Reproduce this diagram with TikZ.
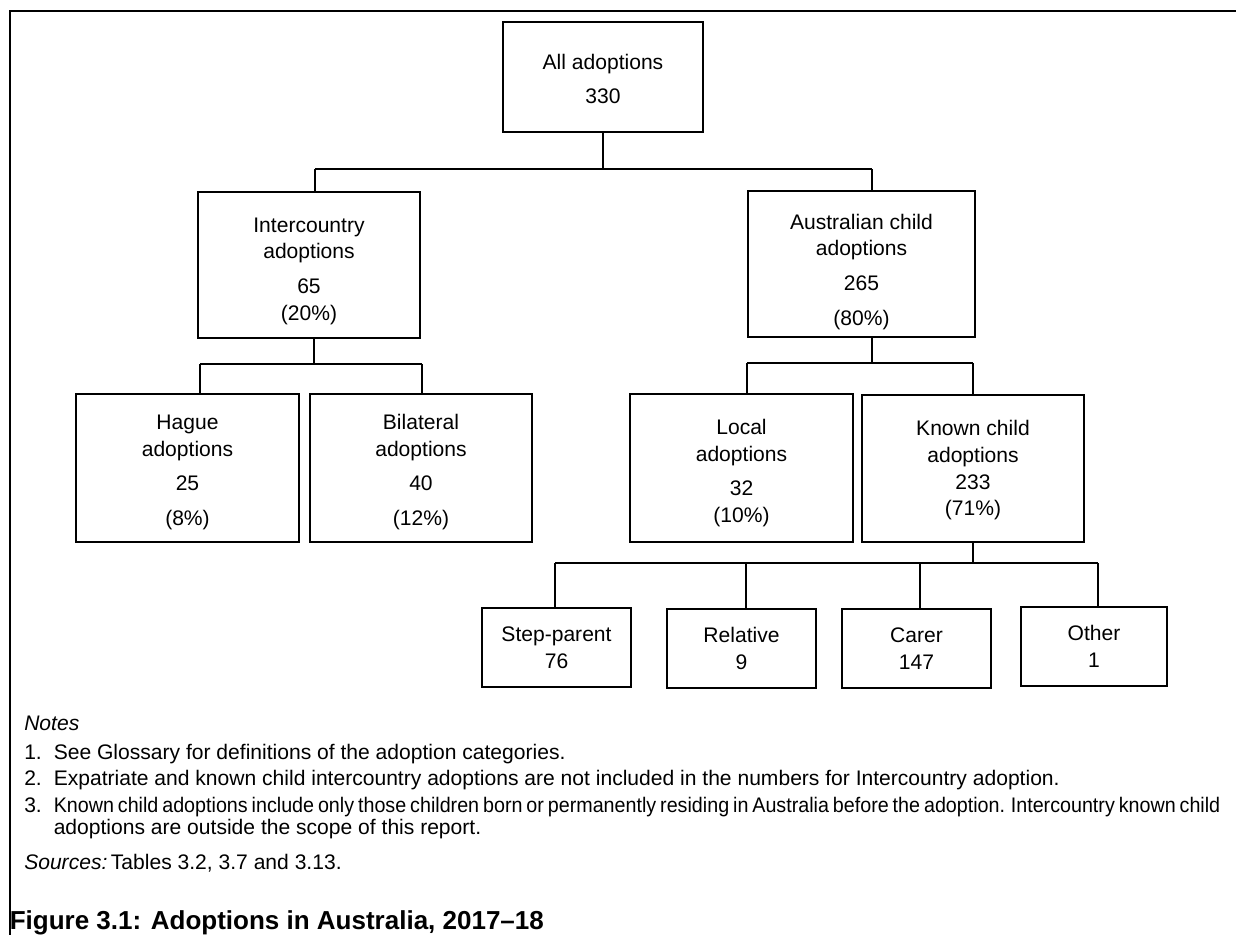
\documentclass[tikz,border=0pt]{standalone}
\usepackage{fontspec}
\setmainfont{Liberation Sans}
\newcommand{\topstrut}[1]{\rule{0pt}{#1}}
\begin{document}
\begin{tikzpicture}[x=0.75pt,y=-0.75pt,
  frameline/.style={line width=1.6pt},
  box/.style={draw, line width=1.1pt, inner sep=0pt, align=center, font=\fontsize{15.8}{20}\selectfont},
  conn/.style={line width=0.85pt},
  note/.style={anchor=base west, inner sep=0pt, font=\fontsize{15.8}{18}\selectfont},
  titletext/.style={anchor=base west, inner sep=0pt, font=\fontsize{19.5}{22}\selectfont\bfseries}]
\useasboundingbox (0,0) rectangle (1236,935);
\clip (0,0) rectangle (1236,935);
% frame
\draw[frameline] (10,945) -- (10,11) -- (1250,11);
% level 0
\node[box, minimum width=200*0.75pt, minimum height=110*0.75pt] (all) at (603,77) {\topstrut{14.5pt}All adoptions\\[6pt]330};
% level 1
\node[box, minimum width=222*0.75pt, minimum height=146*0.75pt] (inter) at (309,265) {\topstrut{20pt}Intercountry\\adoptions\\[6pt]65\\(20\%)};
\node[box, minimum width=227*0.75pt, minimum height=146*0.75pt] (aus) at (861.5,264) {\topstrut{23pt}Australian child\\adoptions\\[6pt]265\\[6pt](80\%)};
% level 2
\node[box, minimum width=223*0.75pt, minimum height=148*0.75pt] (hague) at (187.5,468) {\topstrut{17.5pt}Hague\\adoptions\\[6pt]25\\[6pt](8\%)};
\node[box, minimum width=222*0.75pt, minimum height=148*0.75pt] (bilat) at (421,468) {\topstrut{17.5pt}Bilateral\\adoptions\\[6pt]40\\[6pt](12\%)};
\node[box, minimum width=223*0.75pt, minimum height=148*0.75pt] (local) at (741.5,468) {\topstrut{19pt}Local\\adoptions\\[6pt]32\\(10\%)};
\node[box, minimum width=222*0.75pt, minimum height=147*0.75pt] (known) at (973,468.5) {\topstrut{14.5pt}Known child\\adoptions\\233\\(71\%)};
% level 3
\node[box, minimum width=149*0.75pt, minimum height=79*0.75pt] (step) at (556.5,647.5) {Step-parent\\76};
\node[box, minimum width=149*0.75pt, minimum height=79*0.75pt] (rel) at (741.5,648.5) {Relative\\9};
\node[box, minimum width=149*0.75pt, minimum height=79*0.75pt] (carer) at (916.5,648.5) {Carer\\147};
\node[box, minimum width=146*0.75pt, minimum height=79*0.75pt] (other) at (1094,646.5) {Other\\1};
% connectors level 0 -> 1
\coordinate (b0) at (603,169);
\coordinate (b0L) at (315,169);
\coordinate (b0R) at (872,169);
\draw[conn] (all.south) -- (b0);
\draw[conn] (b0L) -- (b0R);
\draw[conn] (b0L) -- (b0L |- inter.north);
\draw[conn] (b0R) -- (b0R |- aus.north);
% intercountry -> hague, bilateral
\coordinate (b1) at (314,364);
\coordinate (b1L) at (200,364);
\coordinate (b1R) at (422,364);
\draw[conn] (b1 |- inter.south) -- (b1);
\draw[conn] (b1L) -- (b1R);
\draw[conn] (b1L) -- (b1L |- hague.north);
\draw[conn] (b1R) -- (b1R |- bilat.north);
% australian -> local, known
\coordinate (b2) at (872,363);
\coordinate (b2L) at (747,363);
\coordinate (b2R) at (973,363);
\draw[conn] (b2 |- aus.south) -- (b2);
\draw[conn] (b2L) -- (b2R);
\draw[conn] (b2L) -- (b2L |- local.north);
\draw[conn] (b2R) -- (b2R |- known.north);
% known -> four
\coordinate (b3) at (973,563);
\coordinate (b3A) at (555,563);
\coordinate (b3B) at (746,563);
\coordinate (b3C) at (920,563);
\coordinate (b3D) at (1098,563);
\draw[conn] (known.south) -- (b3);
\draw[conn] (b3A) -- (b3D);
\draw[conn] (b3A) -- (b3A |- step.north);
\draw[conn] (b3B) -- (b3B |- rel.north);
\draw[conn] (b3C) -- (b3C |- carer.north);
\draw[conn] (b3D) -- (b3D |- other.north);
% notes
\node[note] (notes) at (24,730) {\itshape Notes};
\node[note] (n1) at (24,759) {1.};
\node[note] (t1) at (53.5,759) {See Glossary for definitions of the adoption categories.};
\node[note] (n2) at (24,785) {2.};
\node[note] (t2) at (53.5,785) {Expatriate and known child intercountry adoptions are not included in the numbers for Intercountry adoption.};
\node[note] (n3) at (24,812) {3.};
\node[note] (t3) at (53.5,812) {\scalebox{0.935}[1]{\spaceskip=0.2em Known child adoptions include only those children born or permanently residing in Australia before the adoption. Intercountry known child}};
\node[note] (t3b) at (53.5,834) {adoptions are outside the scope of this report.};
\node[note] (src) at (24,869) {\textit{Sources:}\,Tables 3.2, 3.7 and 3.13.};
\node[titletext] (title) at (9.5,929) {Figure 3.1: Adoptions in Australia, 2017–18};
\end{tikzpicture}
\end{document}
